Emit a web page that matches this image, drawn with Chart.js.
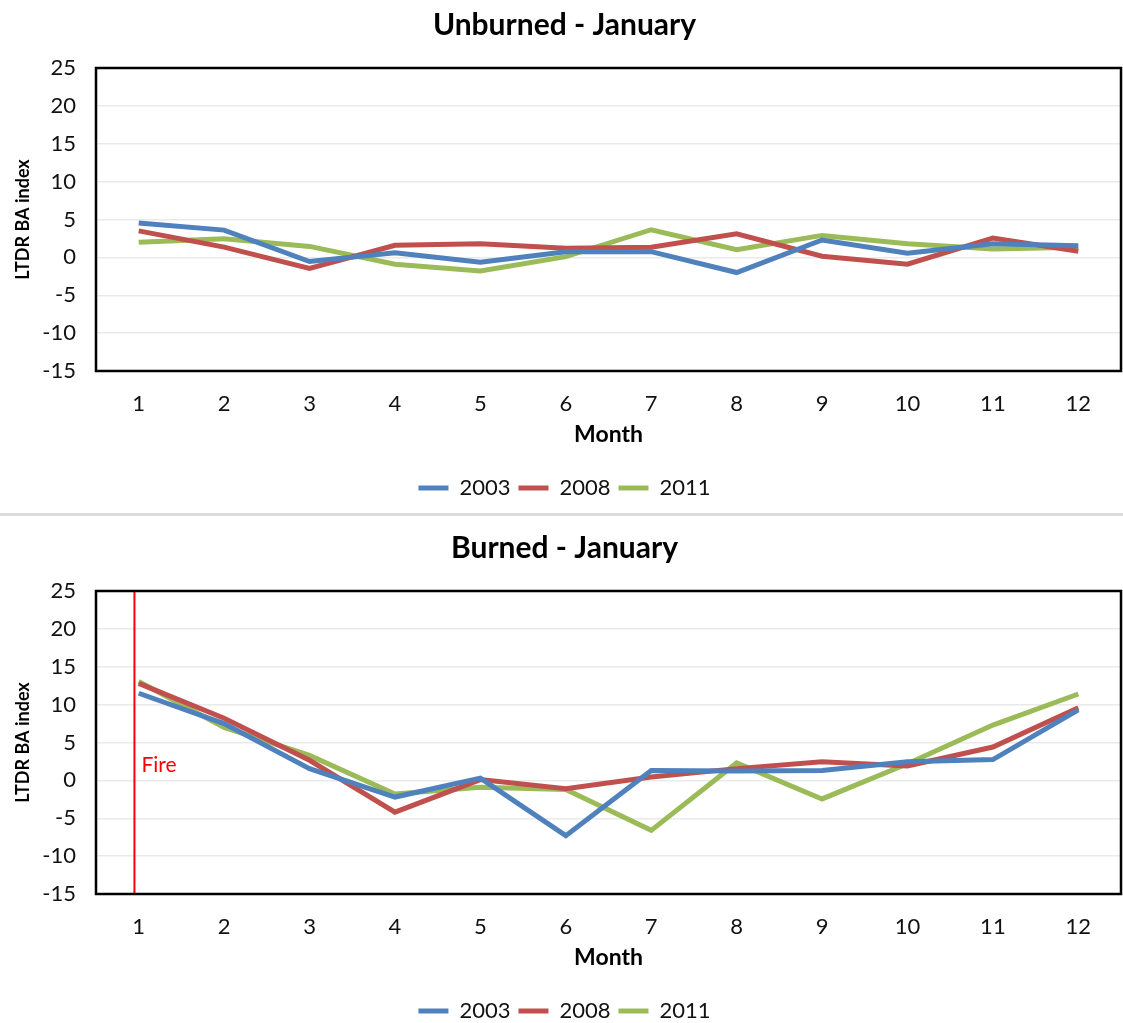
<!DOCTYPE html>
<html>
<head>
<meta charset="utf-8">
<script src="https://cdn.jsdelivr.net/npm/chart.js@4"></script>
<style>
  body { margin: 0; background: #fff; width: 1123px; height: 1023px; overflow: hidden; }
  .box { position: relative; width: 1123px; height: 500px; }
  .sep { margin: 13px 0 7px 0; height: 3px; background: #dcdcdc; }
</style>
</head>
<body>
<div class="box"><canvas id="unburned"></canvas></div>
<div class="sep"></div>
<div class="box"><canvas id="burned"></canvas></div>

<script>
const months = ['1', '2', '3', '4', '5', '6', '7', '8', '9', '10', '11', '12'];
const years = ['2003', '2008', '2011'];
const yearColors = ['#4F81BD', '#C0504D', '#9BBB59'];

const unburned2003 = [4.55, 3.6, -0.55, 0.6, -0.65, 0.75, 0.75, -2.0, 2.3, 0.55, 1.8, 1.55];
const unburned2008 = [3.5, 1.35, -1.45, 1.6, 1.8, 1.2, 1.35, 3.1, 0.15, -0.9, 2.55, 0.8];
const unburned2011 = [2.0, 2.45, 1.45, -0.9, -1.8, 0.1, 3.65, 1.0, 2.9, 1.8, 1.1, 1.35];

const burned2003 = [11.5, 7.5, 1.55, -2.2, 0.3, -7.3, 1.3, 1.25, 1.3, 2.45, 2.75, 9.3];
const burned2008 = [12.8, 8.2, 2.65, -4.2, 0.1, -1.1, 0.45, 1.55, 2.45, 1.9, 4.4, 9.6];
const burned2011 = [13.05, 7.0, 3.3, -1.8, -0.9, -1.2, -6.6, 2.3, -2.45, 2.2, 7.3, 11.4];

const yMin = -15;
const yMax = 25;
const yStep = 5;

// fire marker sits just left of month 1
const fireMonth = 0.95;
const fireLabel = 'Fire';
const fireLabelValue = 2;

const FONT = 'Lato, "Open Sans", sans-serif';

// black frame round the plot area, like Excel
const frame = {
  id: 'frame',
  afterDraw(chart) {
    const a = chart.chartArea;
    const ctx = chart.ctx;
    ctx.save();
    ctx.strokeStyle = '#000';
    ctx.lineWidth = 2.5;
    ctx.strokeRect(a.left, a.top, a.right - a.left, a.bottom - a.top);
    ctx.restore();
  }
};

const fireLine = {
  id: 'fireLine',
  beforeDatasetsDraw(chart) {
    const x = chart.scales.x.getPixelForValue(fireMonth - 1);
    const a = chart.chartArea;
    const ctx = chart.ctx;
    ctx.save();
    ctx.strokeStyle = '#FF0000';
    ctx.lineWidth = 2;
    ctx.beginPath();
    ctx.moveTo(x, a.top);
    ctx.lineTo(x, a.bottom);
    ctx.stroke();
    ctx.fillStyle = '#FF0000';
    ctx.font = '21px ' + FONT;
    ctx.textBaseline = 'middle';
    ctx.fillText(fireLabel, x + 7, chart.scales.y.getPixelForValue(fireLabelValue));
    ctx.restore();
  }
};

function makeChart(id, title, series, extraPlugins) {
  const ctx = document.getElementById(id).getContext('2d');
  return new Chart(ctx, {
    type: 'line',
    data: {
      labels: months,
      datasets: series.map((data, i) => ({
        label: years[i],
        data,
        borderColor: yearColors[i],
        backgroundColor: yearColors[i],
        borderWidth: 5,
        pointRadius: 0,
        tension: 0,
        fill: false,
      }))
    },
    plugins: [frame].concat(extraPlugins || []),
    options: {
      responsive: true,
      maintainAspectRatio: false,
      animation: false,
      layout: { padding: { left: 8, right: 2, top: 0, bottom: -9 } },
      plugins: {
        title: {
          display: true,
          text: title,
          color: '#000',
          font: { family: FONT, size: 30, weight: 'bold' },
          padding: { top: 7, bottom: 25 }
        },
        legend: {
          position: 'bottom',
          labels: {
            usePointStyle: true,
            pointStyle: 'line',
            pointStyleWidth: 30,
            color: '#111',
            font: { family: FONT, size: 22 },
            padding: 8
          }
        },
        tooltip: { enabled: false }
      },
      scales: {
        x: {
          offset: true,
          grid: { display: false, drawTicks: false },
          border: { display: false },
          ticks: { color: '#111', font: { family: FONT, size: 22 }, padding: 20 },
          title: {
            display: true,
            text: 'Month',
            color: '#000',
            font: { family: FONT, size: 23, weight: 'bold' },
            padding: { top: 4, bottom: 21 }
          },
          afterFit: s => { s.height = 98; }
        },
        y: {
          min: yMin,
          max: yMax,
          grid: { color: '#eaeaea', lineWidth: 1.5, drawTicks: false },
          border: { display: false },
          ticks: { stepSize: yStep, color: '#111', font: { family: FONT, size: 22 }, padding: 20 },
          title: {
            display: true,
            text: 'LTDR BA index',
            color: '#000',
            font: { family: FONT, size: 18, weight: 'bold' },
            padding: { top: 4, bottom: 4 }
          },
          afterFit: s => { s.width = 88; }
        }
      }
    }
  });
}

makeChart('unburned', 'Unburned - January', [unburned2003, unburned2008, unburned2011]);
makeChart('burned', 'Burned - January', [burned2003, burned2008, burned2011], [fireLine]);
</script>
</body>
</html>
